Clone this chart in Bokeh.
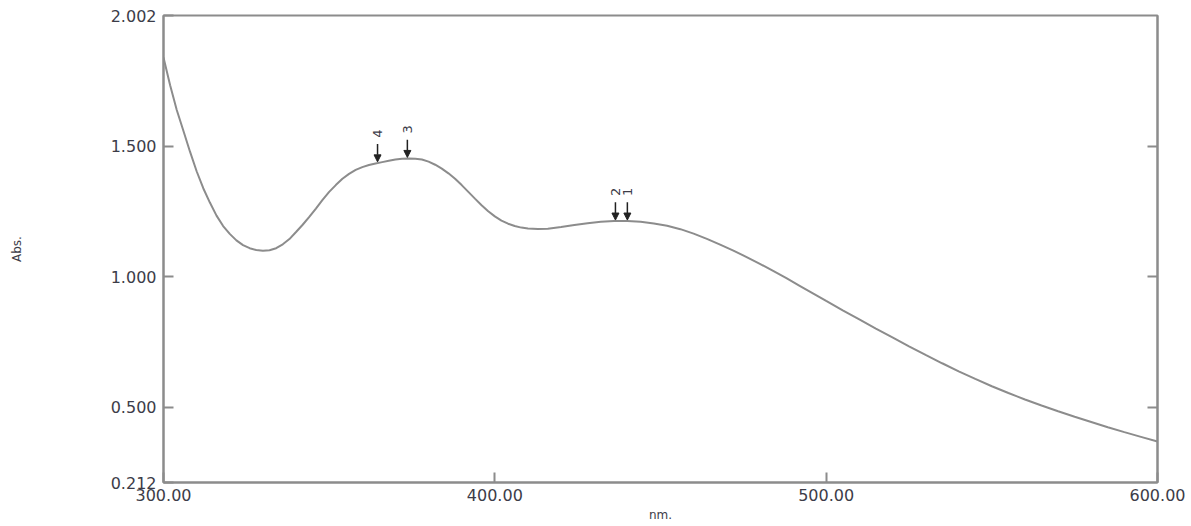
from bokeh.plotting import figure
from bokeh.models import (Range1d, FixedTicker, NumeralTickFormatter, LinearAxis,
                          ColumnDataSource, Arrow, NormalHead)
from bokeh.core.properties import value
from bokeh.embed import file_html
from bokeh.resources import INLINE
import math

# ---- data ----
wavelength = [300, 302, 304, 306, 308, 310, 312, 314, 316, 318, 320, 322, 324, 326,
              328, 330, 332, 334, 336, 338, 340, 342, 344, 346, 348, 350, 352, 354,
              356, 358, 360, 362, 364, 366, 368, 370, 372, 374, 376, 378, 380, 382,
              384, 386, 388, 390, 392, 394, 396, 398, 400, 402, 404, 406, 408, 410,
              413, 416, 420, 424, 428, 432, 436, 440, 444, 448, 452, 456, 460, 464,
              468, 472, 476, 480, 484, 488, 492, 496, 500, 505, 510, 515, 520, 525,
              530, 535, 540, 545, 550, 555, 560, 565, 570, 575, 580, 585, 590, 595,
              600]
absorbance = [1.841, 1.735, 1.640, 1.560, 1.480, 1.405, 1.340, 1.285, 1.235, 1.195,
              1.165, 1.140, 1.122, 1.110, 1.103, 1.100, 1.102, 1.110, 1.125, 1.145,
              1.172, 1.200, 1.230, 1.262, 1.295, 1.326, 1.352, 1.376, 1.395, 1.410,
              1.421, 1.429, 1.435, 1.440, 1.445, 1.450, 1.453, 1.454, 1.453, 1.450,
              1.442, 1.430, 1.415, 1.397, 1.376, 1.352, 1.326, 1.300, 1.275, 1.252,
              1.232, 1.216, 1.204, 1.195, 1.189, 1.186, 1.184, 1.185, 1.191, 1.199,
              1.206, 1.211, 1.214, 1.214, 1.211, 1.205, 1.196, 1.183, 1.166, 1.146,
              1.124, 1.101, 1.076, 1.050, 1.023, 0.995, 0.966, 0.937, 0.908, 0.872,
              0.837, 0.802, 0.768, 0.734, 0.701, 0.669, 0.638, 0.609, 0.581, 0.555,
              0.530, 0.507, 0.485, 0.464, 0.444, 0.424, 0.405, 0.387, 0.369]

peak_labels = ["1", "2", "3", "4"]
peak_nm = [440.0, 436.4, 373.6, 364.6]
peak_abs = [1.214, 1.214, 1.454, 1.437]

y_ticks = [0.212, 0.5, 1.0, 1.5, 2.002]
x_ticks = [300, 400, 500, 600]
right_ticks = [0.5, 1.0, 1.5]

FONT = "DejaVu Sans"
GRAY = "#8c8c8c"
TXT = "#3c3c48"

p = figure(width=1188, height=524, output_backend="svg", toolbar_location=None,
           x_range=Range1d(300, 600), y_range=Range1d(0.212, 2.002),
           min_border_left=163, min_border_right=31, min_border_top=15,
           min_border_bottom=42)
p.grid.visible = False
p.outline_line_color = GRAY
p.outline_line_width = 2
p.background_fill_color = "white"
p.border_fill_color = "white"

for ax in (p.xaxis[0], p.yaxis[0]):
    ax.axis_line_color = GRAY
    ax.axis_line_width = 2
    ax.major_tick_line_color = GRAY
    ax.major_tick_line_width = 2
    ax.major_tick_in = 10
    ax.major_tick_out = 0
    ax.minor_tick_line_color = None
    ax.major_label_text_font = FONT
    ax.major_label_text_font_size = "16px"
    ax.major_label_text_color = TXT
    ax.axis_label_text_font = FONT
    ax.axis_label_text_font_size = "12px"
    ax.axis_label_text_font_style = "normal"
    ax.axis_label_text_color = TXT

p.xaxis.ticker = FixedTicker(ticks=x_ticks)
p.xaxis.formatter = NumeralTickFormatter(format="0.00")
p.xaxis.axis_label = "nm."
p.xaxis.major_label_standoff = 6
p.xaxis.axis_label_standoff = 4

p.yaxis.ticker = FixedTicker(ticks=y_ticks)
p.yaxis.formatter = NumeralTickFormatter(format="0.000")
p.yaxis.axis_label = "Abs."
p.yaxis.major_label_standoff = 7
p.yaxis.axis_label_standoff = 84

right = LinearAxis(ticker=FixedTicker(ticks=right_ticks),
                   major_label_text_color=None, major_label_text_font_size="1px",
                   axis_line_color=GRAY, axis_line_width=2,
                   major_tick_line_color=GRAY, major_tick_line_width=2,
                   major_tick_in=10, major_tick_out=0,
                   minor_tick_line_color=None, major_label_standoff=0)
right.major_label_overrides = {t: "" for t in right_ticks}
p.add_layout(right, "right")

p.line(wavelength, absorbance, line_color=GRAY, line_width=2)

src = ColumnDataSource(dict(
    x=peak_nm,
    y0=[a + 0.072 for a in peak_abs],
    y1=[a + 0.004 for a in peak_abs],
    ty=[a + 0.112 for a in peak_abs],
    t=peak_labels,
))
p.add_layout(Arrow(end=NormalHead(size=7, fill_color="#222222", line_color="#222222"),
                   x_start="x", y_start="y0", x_end="x", y_end="y1",
                   line_color="#222222", line_width=1.5, source=src))
p.text(x="x", y="ty", text="t", source=src, angle=math.pi / 2,
       text_align="center", text_baseline="middle",
       text_font=value(FONT), text_font_size="13px", text_color=TXT)

open("out.html", "w").write(file_html(p, INLINE))
